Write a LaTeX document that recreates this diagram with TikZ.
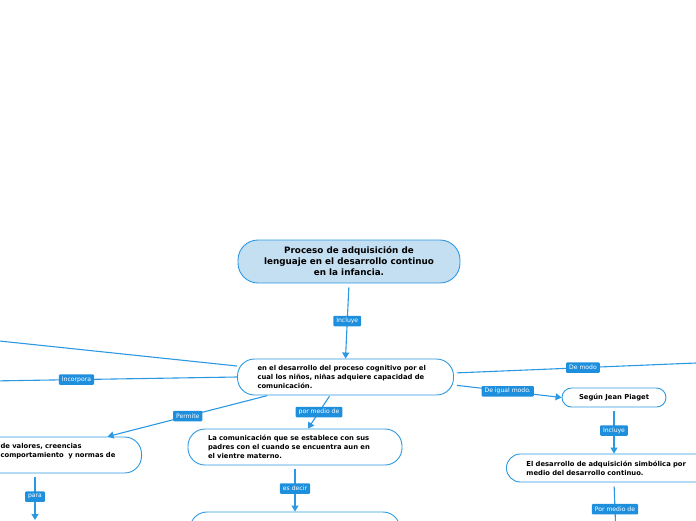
\documentclass[tikz,border=0pt]{standalone}
\usepackage{fontspec}
\setmainfont{DejaVu Sans}
\usetikzlibrary{arrows.meta,calc}
\definecolor{edgeblue}{RGB}{44,152,226}
\definecolor{labblue}{RGB}{30,143,221}
\definecolor{mainfill}{RGB}{196,222,242}
\tikzset{
  box/.style={draw=edgeblue, line width=0.9pt, rectangle, rounded corners=17pt, fill=white,
    font=\fontsize{6.8}{9}\selectfont\bfseries, inner xsep=20pt, inner ysep=0pt,
    minimum height=36pt, align=left},
  conn/.style={draw=edgeblue, line width=1.1pt, -{Triangle[width=7pt,length=6pt]}},
  plain/.style={draw=edgeblue, line width=1.1pt},
  lab/.style={fill=labblue, text=white, font=\fontsize{6.1}{6.5}\selectfont, inner xsep=3pt,
    inner ysep=0pt, minimum height=10.5pt, rounded corners=1pt, anchor=center}
}
\begin{document}
\begin{tikzpicture}[x=1pt,y=-1pt]
\useasboundingbox (0,0) rectangle (696,520);
\clip (0,0) rectangle (696,520);
% nodes
\node[box, rounded corners=20pt, fill=mainfill, minimum width=222pt, minimum height=43pt,
  align=center, inner xsep=4pt, font=\fontsize{8.8}{11}\selectfont\bfseries] (main) at (349,261.5)
  {Proceso de adquisición de\\lenguaje en el desarrollo continuo\\en la infancia.};
\node[box, text width=176pt] (central) at (345.5,377)
  {en el desarrollo del proceso cognitivo por el\\cual los niños, niñas adquiere capacidad de\\comunicación.};
\node[box, text width=121pt, anchor=east] (leftbox) at (142,455)
  {de valores, creencias\\comportamiento\ \ y normas de\\\mbox{}};
\node[box, text width=174pt] (comm) at (295,447)
  {La comunicación que se establece con sus\\padres con el cuando se encuentra aun en\\el vientre materno.};
\node[box, minimum width=210pt] (bottom) at (295,530) {};
\node[box, rounded corners=9.5pt, minimum width=104pt, minimum height=19pt, inner xsep=2pt,
  align=center] (piaget) at (614,397.5) {Según Jean Piaget};
\node[box, rounded corners=14pt, text width=230pt, minimum height=28pt, anchor=west] (desarrollo) at (506,468)
  {El desarrollo de adquisición simbólica por\\medio del desarrollo continuo.};
% free ends
\coordinate (offL1) at (-10,340);
\coordinate (offL2) at (-10,381);
\coordinate (offR) at (720,362);
\coordinate (offB) at (616,536);
\coordinate (paraend) at (35,520);
% connectors
\draw[conn, shorten <=4pt] (main.south) -- node[lab]{Incluye} (central.north);
\draw[plain] (offL1) -- ([yshift=11pt]central.west);
\draw[plain] (offL2) -- node[lab, pos=0.35]{Incorpora} (central.west);
\draw[conn, shorten <=1pt] ([xshift=-77.5pt]central.south) -- node[lab]{Permite} ([xshift=46.5pt]leftbox.north);
\draw[conn, shorten <=1pt] ([xshift=-15.5pt]central.south) -- node[lab]{por medio de} ([xshift=13pt]comm.north);
\draw[conn, shorten <=4pt] (comm.south) -- node[lab]{es decir} (bottom.north);
\draw[plain, shorten <=3pt] ([yshift=4pt]central.east) -- node[lab, pos=0.485]{De modo} (offR);
\draw[conn, shorten <=3pt] ([yshift=-8pt]central.east) -- node[lab]{De igual modo.} (piaget.west);
\draw[conn, shorten <=4pt] (piaget.south) -- node[lab]{Incluye} (piaget.south |- desarrollo.north);
\draw[plain, shorten <=4pt] (piaget.south |- desarrollo.south) -- node[lab]{Por medio de} (offB);
\draw[conn, shorten <=4pt] (paraend |- leftbox.south) -- node[lab]{para} (paraend);
\end{tikzpicture}
\end{document}
